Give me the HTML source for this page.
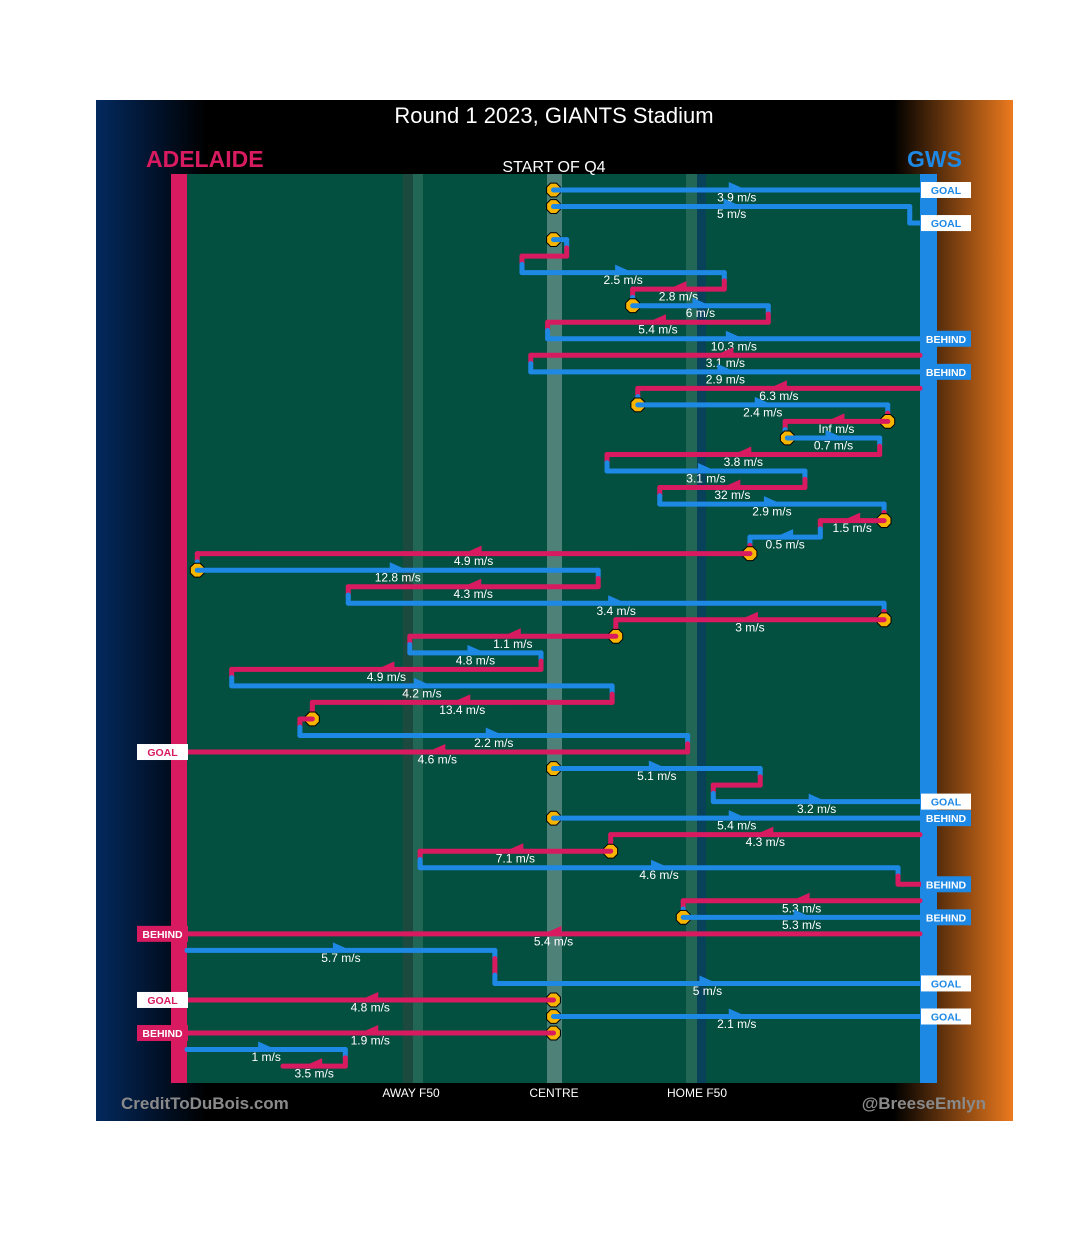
<!DOCTYPE html>
<html><head><meta charset="utf-8">
<style>
body{margin:0;background:#fff;width:1080px;height:1235px;overflow:hidden;font-family:"Liberation Sans",sans-serif}
svg text{font-family:"Liberation Sans",sans-serif}
</style></head>
<body>
<svg id="chart" width="1080" height="1235" viewBox="0 0 1080 1235" xmlns="http://www.w3.org/2000/svg">
<defs>
<linearGradient id="bgL" x1="0" x2="1" y1="0" y2="0">
<stop offset="0" stop-color="#03295e"/><stop offset="0.12" stop-color="#000"/><stop offset="0.87" stop-color="#000"/><stop offset="1" stop-color="#ec7a1e"/>
</linearGradient>
</defs>
<rect x="96" y="100" width="917" height="1021" fill="url(#bgL)"/>
<rect x="187" y="174" width="733" height="909" fill="#034f40"/>
<rect x="403" y="174" width="10" height="909" fill="#1d4a3e"/>
<rect x="413" y="174" width="10" height="909" fill="#226656"/>
<rect x="547" y="174" width="15" height="909" fill="#4e8278"/>
<rect x="686" y="174" width="11" height="909" fill="#226656"/>
<rect x="697" y="174" width="9" height="909" fill="#07415a"/>
<rect x="171" y="174" width="16" height="909" fill="#d81b60"/>
<rect x="920" y="174" width="17" height="909" fill="#1e88e5"/>
<text x="554" y="123" fill="#fff" font-size="22" text-anchor="middle">Round 1 2023, GIANTS Stadium</text>
<text x="146" y="167" fill="#d81b60" font-size="23" font-weight="bold">ADELAIDE</text>
<text x="962" y="167" fill="#1e88e5" font-size="23" font-weight="bold" text-anchor="end">GWS</text>
<text x="554" y="172" fill="#fff" font-size="16" text-anchor="middle">START OF Q4</text>
<text x="411" y="1097" fill="#fff" font-size="12" text-anchor="middle">AWAY F50</text>
<text x="554" y="1097" fill="#fff" font-size="12" text-anchor="middle">CENTRE</text>
<text x="697" y="1097" fill="#fff" font-size="12" text-anchor="middle">HOME F50</text>
<text x="121" y="1109" fill="#8a8a8a" font-size="17" font-weight="bold">CreditToDuBois.com</text>
<text x="986" y="1109" fill="#8a8a8a" font-size="17" font-weight="bold" text-anchor="end">@BreeseEmlyn</text>
<g id="marks"></g>
</svg>
<script>
// field positions 0 = Adelaide goal, 100 = GWS goal
const startPos = [50,50,98.6,50,51.8,45.7,73.3,60.8,79.3,49.2,100,46.9,100,61.5,95.6,81.9,94.5,57.3,84.3,64.5,95.1,86.4,76.8,1.4,56.1,22.0,95.1,58.5,30.4,48.3,6.1,58.0,17.1,15.4,68.3,50,78.2,71.8,50,100,57.8,31.8,97.0,100,67.7,100,0,42.0,42.0,50,50,50,0,21.6];
const endPos   = [100,98.6,100,51.8,45.7,73.3,60.8,79.3,49.2,100,46.9,100,61.5,95.6,81.6,94.5,57.3,84.3,64.5,95.1,86.4,76.8,1.4,56.1,22.0,95.1,58.5,30.4,48.3,6.1,58.0,17.1,15.4,68.3,0,78.2,71.8,100,100,57.8,31.8,97.0,100,67.7,100,0,42.0,42.0,100,0,100,0,21.6,13.1];
const teams    = ["G","G","G","G","A","G","A","G","A","G","A","G","A","G","A","G","A","G","A","G","A","G","A","G","A","G","A","A","G","A","G","A","A","G","A","G","A","G","G","A","A","G","A","A","G","A","G","A","G","A","G","A","G","A"];
const speeds   = ["3.9","5","","","","2.5","2.8","6","5.4","10.3","3.1","2.9","6.3","2.4","Inf","0.7","3.8","3.1","32","2.9","1.5","0.5","4.9","12.8","4.3","3.4","3","1.1","4.8","4.9","4.2","13.4","","2.2","4.6","5.1","","3.2","5.4","4.3","7.1","4.6","","5.3","5.3","5.4","5.7","","5","4.8","2.1","1.9","1","3.5"];
const markers  = [0,13,1,3,7,14,15,20,22,23,26,27,32,35,38,40,44,49,50,51];
const results  = {0:"GOAL",2:"GOAL",9:"BEHIND",11:"BEHIND",34:"GOAL",37:"GOAL",38:"BEHIND",42:"BEHIND",44:"BEHIND",45:"BEHIND",48:"GOAL",49:"GOAL",50:"GOAL",51:"BEHIND"};

const NS="http://www.w3.org/2000/svg";
const g=document.getElementById('marks');
const xS=v=>187+v*7.33;
const yS=i=>190+i*16.53;
const col=t=>t==="A"?"#d81b60":"#1e88e5";
function mk(tag,attrs){const e=document.createElementNS(NS,tag);for(const k in attrs)e.setAttribute(k,attrs[k]);g.appendChild(e);return e;}
const n=teams.length;
for(let i=0;i<n-1;i++){
  if(results[i]!==undefined) continue;
  if(Math.abs(startPos[i+1]-endPos[i])>0.5) continue;
  const x=xS(endPos[i]),y0=yS(i),y1=yS(i+1),ym=(y0+y1)/2;
  const a=mk('line',{x1:x,y1:y0,x2:x,y2:ym,stroke:col(teams[i]),'stroke-width':5,'stroke-linecap':'round'});
  
  
  const b=mk('line',{x1:x,y1:ym,x2:x,y2:y1,stroke:col(teams[i+1]),'stroke-width':5,'stroke-linecap':'round'});
  
  
}
markers.forEach(i=>{
  const cx=xS(startPos[i]),cy=yS(i),r=7.5,p=[];
  for(let k=0;k<8;k++){const a=Math.PI/8+k*Math.PI/4;p.push((cx+r*Math.cos(a)).toFixed(1)+","+(cy+r*Math.sin(a)).toFixed(1));}
  const o=mk('polygon',{points:p.join(" "),fill:"#f7b500",stroke:"#000","stroke-width":1});
  
  
});
for(let i=0;i<n;i++){
  const x1=xS(startPos[i]),x2=xS(endPos[i]),y=yS(i),c=col(teams[i]);
  const l=mk('line',{x1:x1,y1:y,x2:x2,y2:y,stroke:c,'stroke-width':5,'stroke-linecap':'round'});
  
  
  const mx=(x1+x2)/2,d=x2>=x1?1:-1;
  if(speeds[i]!==""){
    const tr=mk('polygon',{points:`${mx-d*8},${y-8} ${mx+d*10},${y} ${mx-d*8},${y}`,fill:c});
    
    
    const t=mk('text',{x:mx,y:y+11.5,fill:"#fff","font-size":12,"text-anchor":"middle"});
    t.textContent=speeds[i]+" m/s";
    
    
  }
}
for(const k in results){
  const i=+k,res=results[k],right=endPos[i]>50,y=yS(i);
  const bx=right?921:137,w=right?50:51;
  const teamCol=right?"#1e88e5":"#d81b60";
  const isGoal=res==="GOAL";
  const r=mk('rect',{x:bx,y:y-8,width:w,height:16,fill:isGoal?"#fff":teamCol});
  
  
  const t=mk('text',{x:bx+w/2,y:y+4,fill:isGoal?teamCol:"#fff","font-size":10.5,"font-weight":"bold","text-anchor":"middle"});
  t.textContent=res;
  
  
}
</script>
</body></html>
